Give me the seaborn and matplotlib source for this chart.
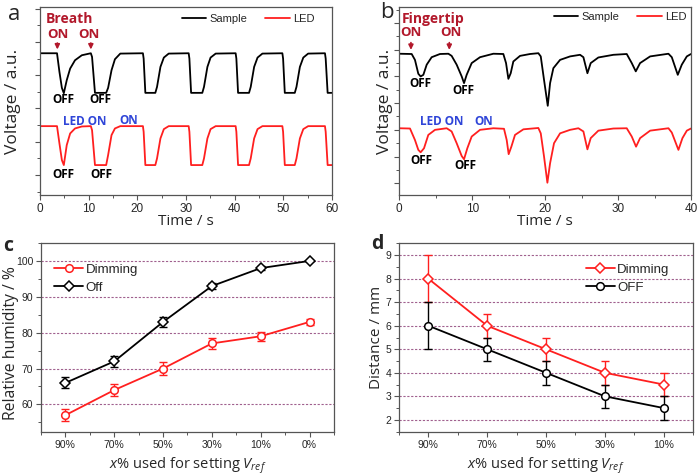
import numpy as np
import pandas as pd
import matplotlib
matplotlib.use('Agg')
import matplotlib.pyplot as plt
import seaborn as sns
from matplotlib.ticker import MultipleLocator
from matplotlib.lines import Line2D

sns.set_style('ticks')
plt.rcParams['font.family'] = ['Liberation Sans', 'DejaVu Sans']
plt.rcParams['mathtext.fontset'] = 'custom'
plt.rcParams['mathtext.it'] = 'Open Sans:italic'
plt.rcParams['mathtext.rm'] = 'Open Sans'

# ---------------- Panel a: breath (time in s, voltage a.u.) ----------------
a_time = [0, 3.5, 4.0, 4.5, 4.9, 5.5, 6.2, 7.2, 8.6, 10.45, 10.7, 11.3, 13.6, 14.0, 14.7, 15.4, 16.5,
          21.15, 21.3, 21.65, 23.7, 24.05, 24.75, 25.45, 26.45, 30.55, 30.7, 31.05, 33.35, 33.7, 34.4,
          35.05, 36.1, 40.2, 40.35, 40.7, 42.95, 43.3, 44.0, 44.7, 45.7, 49.8, 49.95, 50.3, 52.35, 52.7,
          53.4, 54.1, 55.1, 58.55, 58.7, 59.1, 60]
a_sample = [3.66, 3.66, 3.1, 2.62, 2.46, 2.85, 3.2, 3.45, 3.6, 3.66, 3.55, 2.47, 2.47, 2.62, 3.15, 3.48, 3.65,
            3.66, 3.5, 2.47, 2.47, 2.65, 3.25, 3.53, 3.65, 3.66, 3.5, 2.47, 2.47, 2.65, 3.25,
            3.53, 3.65, 3.66, 3.5, 2.47, 2.47, 2.65, 3.25, 3.53, 3.65, 3.66, 3.5, 2.47, 2.47, 2.65,
            3.25, 3.53, 3.65, 3.66, 3.5, 2.47, 2.47]
a_led = [1.47, 1.47, 0.95, 0.45, 0.3, 0.9, 1.25, 1.4, 1.46, 1.47, 1.35, 0.3, 0.3, 0.6, 1.2, 1.4, 1.47,
         1.47, 1.3, 0.3, 0.3, 0.5, 1.1, 1.38, 1.47, 1.47, 1.3, 0.3, 0.3, 0.5, 1.1,
         1.38, 1.47, 1.47, 1.3, 0.3, 0.3, 0.5, 1.1, 1.38, 1.47, 1.47, 1.3, 0.3, 0.3, 0.5,
         1.1, 1.38, 1.47, 1.47, 1.3, 0.3, 0.3]

# ---------------- Panel b: fingertip ----------------
b_time_s = [0, 1.7, 2.15, 2.61, 2.93, 3.3, 3.76, 4.44, 5.58, 6.73, 7.18, 7.87, 8.56, 8.88, 9.24, 9.93,
            11.07, 12.9, 14.27, 14.64, 14.96, 15.28, 15.64, 16.56, 17.93, 19.07, 19.4, 19.85, 20.36,
            20.68, 21.13, 22.05, 23.42, 24.79, 25.25, 25.8, 26.25, 27.3, 29.36, 31.19, 31.88, 32.43,
            33.02, 34.4, 36.91, 37.37, 38.19, 38.74, 39.43, 40]
b_sample = [4.85, 4.84, 4.62, 4.1, 4.0, 4.06, 4.44, 4.72, 4.84, 4.85, 4.77, 4.44, 4.0, 3.75, 4.06, 4.5,
            4.72, 4.85, 4.84, 4.5, 3.91, 4.12, 4.56, 4.77, 4.84, 4.87, 4.75, 3.87, 2.9,
            3.75, 4.31, 4.62, 4.75, 4.81, 4.72, 4.12, 4.5, 4.71, 4.81, 4.84, 4.5, 4.19,
            4.5, 4.75, 4.85, 4.72, 4.06, 4.44, 4.75, 4.84]
b_time_l = [0, 1.47, 2.15, 2.61, 2.93, 3.39, 3.98, 4.9, 6.5, 7.18, 7.87, 8.56, 8.88, 9.33, 9.93, 11.07,
            12.9, 14.36, 14.73, 15.0, 15.37, 15.87, 17.02, 19.07, 19.4, 19.85, 20.31, 20.68, 21.22,
            22.05, 23.42, 24.56, 25.25, 25.8, 26.25, 27.3, 29.36, 31.19, 31.88, 32.47, 33.02, 34.4,
            36.91, 37.37, 38.28, 38.83, 39.43, 40]
b_led = [2.06, 2.05, 1.62, 1.25, 1.16, 1.31, 1.81, 2.0, 2.06, 1.94, 1.5, 1.02, 0.9, 1.31, 1.75, 2.0,
         2.06, 2.04, 1.62, 1.09, 1.37, 1.81, 2.02, 2.07, 1.87, 1.0, 0.02, 0.75, 1.5,
         1.87, 2.0, 2.06, 1.94, 1.27, 1.69, 1.97, 2.05, 2.06, 1.75, 1.37, 1.69, 1.97,
         2.06, 1.9, 1.25, 1.69, 1.97, 2.05]

# ---------------- Panel c ----------------
c_labels = ['90%', '70%', '50%', '30%', '10%', '0%']
c_dimming = [57, 64, 70, 77, 79, 83]
c_dimming_err = [1.6, 1.7, 1.7, 1.5, 1.3, 0.8]
c_off = [66, 72, 83, 93, 98, 100]
c_off_err = [1.5, 1.6, 1.5, 0.9, 0.5, 0.0]

# ---------------- Panel d ----------------
d_labels = ['90%', '70%', '50%', '30%', '10%']
d_dimming = [8, 6, 5, 4, 3.5]
d_dimming_err = [1.0, 0.5, 0.5, 0.5, 0.5]
d_off = [6, 5, 4, 3, 2.5]
d_off_err = [1.0, 0.5, 0.5, 0.5, 0.5]

RED = '#ff1f1f'
DARKRED = '#b2182b'
BLUE = '#2f45d8'
SPINE = '#555555'
GRID = '#a0608e'

fig = plt.figure(figsize=(7, 4.76), dpi=100)
axa = fig.add_axes([0.0571, 0.5903, 0.4172, 0.395])
axb = fig.add_axes([0.5704, 0.5903, 0.4167, 0.395])
axc = fig.add_axes([0.0586, 0.0924, 0.4185, 0.3971])
axd = fig.add_axes([0.5700, 0.0924, 0.4200, 0.3971])

def style_axes(ax, fs=8):
    for s in ax.spines.values():
        s.set_color(SPINE)
        s.set_linewidth(0.9)
    ax.tick_params(which='major', direction='out', length=3.5, width=0.8, color=SPINE, labelsize=fs, pad=2)
    ax.tick_params(which='minor', direction='out', length=2, width=0.7, color=SPINE)

LBL = dict(family='Open Sans', fontsize=10.5)
ANN = dict(family='Open Sans', fontweight='bold', ha='center', va='center')

# ----- panel a
dfa = pd.DataFrame({'t': a_time + a_time, 'v': a_sample + a_led,
                    'trace': ['Sample'] * len(a_time) + ['LED'] * len(a_time)})
sns.lineplot(data=dfa, x='t', y='v', hue='trace', palette={'Sample': 'black', 'LED': RED},
             sort=False, estimator=None, ax=axa, linewidth=1.3, legend=False)
axa.set_xlim(0, 60)
axa.set_ylim(-0.6, 5.05)
axa.xaxis.set_major_locator(MultipleLocator(10))
axa.xaxis.set_minor_locator(MultipleLocator(5))
axa.yaxis.set_major_locator(MultipleLocator(1))
axa.yaxis.set_minor_locator(MultipleLocator(0.5))
axa.set_yticklabels([])
style_axes(axa, fs=8.5)
axa.set_xlabel('Time / s', family='Open Sans', fontsize=11)
axa.set_ylabel('Voltage / a.u.', family='Open Sans', fontsize=12.5)
axa.xaxis.set_label_coords(0.5, -0.1)
axa.yaxis.set_label_coords(-0.066, 0.5)
axa.legend(handles=[Line2D([], [], color='black', lw=1.3), Line2D([], [], color=RED, lw=1.3)],
           labels=['Sample', 'LED'], ncol=2, frameon=False, fontsize=8, loc='center right',
           bbox_to_anchor=(0.94, 0.935), borderaxespad=0, borderpad=0, handlelength=2.2,
           handletextpad=0.3, columnspacing=1.6)
axa.text(5.97, 4.68, 'Breath', color=DARKRED, fontsize=10, **ANN)
for tx in (3.6, 10.1):
    axa.text(tx, 4.23, 'ON', color=DARKRED, fontsize=9.5, **ANN)
for tx in (3.57, 10.45):
    axa.annotate('', xy=(tx, 3.69), xytext=(tx, 4.05),
                 arrowprops=dict(arrowstyle='-|>', color=DARKRED, lw=1.2, mutation_scale=7))
for tx in (4.74, 12.35):
    axa.text(tx, 2.28, 'OFF', color='black', fontsize=8.5, **ANN)
for tx in (4.74, 12.55):
    axa.text(tx, 0.03, 'OFF', color='black', fontsize=8.5, **ANN)
axa.text(9.17, 1.62, 'LED ON', color=BLUE, fontsize=8.5, **ANN)
axa.text(18.3, 1.65, 'ON', color=BLUE, fontsize=8.5, **ANN)

# ----- panel b
dfb = pd.DataFrame({'t': b_time_s + b_time_l, 'v': b_sample + b_led,
                    'trace': ['Sample'] * len(b_time_s) + ['LED'] * len(b_time_l)})
sns.lineplot(data=dfb, x='t', y='v', hue='trace', palette={'Sample': 'black', 'LED': RED},
             sort=False, estimator=None, ax=axb, linewidth=1.3, legend=False)
axb.set_xlim(0, 40)
axb.set_ylim(-0.44, 6.6)
axb.xaxis.set_major_locator(MultipleLocator(10))
axb.xaxis.set_minor_locator(MultipleLocator(5))
axb.yaxis.set_major_locator(MultipleLocator(1))
axb.yaxis.set_minor_locator(MultipleLocator(0.5))
axb.set_yticklabels([])
style_axes(axb, fs=8.5)
axb.set_xlabel('Time / s', family='Open Sans', fontsize=11)
axb.set_ylabel('Voltage / a.u.', family='Open Sans', fontsize=12.5)
axb.xaxis.set_label_coords(0.5, -0.1)
axb.yaxis.set_label_coords(-0.02, 0.5)
axb.legend(handles=[Line2D([], [], color='black', lw=1.3), Line2D([], [], color=RED, lw=1.3)],
           labels=['Sample', 'LED'], ncol=2, frameon=False, fontsize=8, loc='center right',
           bbox_to_anchor=(0.985, 0.947), borderaxespad=0, borderpad=0, handlelength=2.2,
           handletextpad=0.3, columnspacing=1.6)
axb.text(4.69, 6.16, 'Fingertip', color=DARKRED, fontsize=10, **ANN)
for tx in (1.6, 7.09):
    axb.text(tx, 5.64, 'ON', color=DARKRED, fontsize=9.5, **ANN)
for tx in (1.6, 6.86):
    axb.annotate('', xy=(tx, 4.89), xytext=(tx, 5.37),
                 arrowprops=dict(arrowstyle='-|>', color=DARKRED, lw=1.2, mutation_scale=7))
axb.text(2.84, 3.72, 'OFF', color='black', fontsize=8.5, **ANN)
axb.text(8.74, 3.46, 'OFF', color='black', fontsize=8.5, **ANN)
axb.text(2.98, 0.87, 'OFF', color='black', fontsize=8.5, **ANN)
axb.text(9.01, 0.65, 'OFF', color='black', fontsize=8.5, **ANN)
axb.text(5.86, 2.3, 'LED ON', color=BLUE, fontsize=8.5, **ANN)
axb.text(11.62, 2.3, 'ON', color=BLUE, fontsize=8.5, **ANN)

# ----- panel c
xc = np.arange(len(c_labels))
for y in range(60, 101, 10):
    axc.axhline(y, color=GRID, lw=0.8, ls=(0, (2.0, 1.5)), zorder=0)
dfc = pd.DataFrame({'x': np.concatenate([xc, xc]), 'y': c_dimming + c_off,
                    'set': ['Dimming'] * len(xc) + ['Off'] * len(xc)})
sns.lineplot(data=dfc, x='x', y='y', hue='set', style='set', palette={'Dimming': RED, 'Off': 'black'},
             markers={'Dimming': 'o', 'Off': 'D'}, dashes=False, ax=axc, linewidth=1.3,
             markersize=5.5, markerfacecolor='white', markeredgewidth=1.1, legend=False, zorder=3)
for ln, c in zip(axc.lines[-2:], [RED, 'black']):
    ln.set_markeredgecolor(c)
axc.errorbar(xc, c_dimming, yerr=c_dimming_err, fmt='none', ecolor=RED, elinewidth=1.0, capsize=2.6, capthick=1.0, zorder=2)
axc.errorbar(xc, c_off, yerr=c_off_err, fmt='none', ecolor='black', elinewidth=1.0, capsize=2.6, capthick=1.0, zorder=2)
axc.set_xlim(-0.5, 5.5)
axc.set_ylim(52.3, 105)
axc.set_xticks(xc)
axc.set_xticklabels(c_labels)
axc.xaxis.set_minor_locator(MultipleLocator(0.5))
axc.yaxis.set_major_locator(MultipleLocator(10))
axc.yaxis.set_minor_locator(MultipleLocator(5))
axc.set_yticks([60, 70, 80, 90, 100])
style_axes(axc, fs=7.5)
axc.set_xlabel(r'$x$% used for setting $V_{ref}$', **LBL)
axc.set_ylabel('Relative humidity / %', family='Open Sans', fontsize=11.3)
axc.xaxis.set_label_coords(0.5, -0.125)
axc.yaxis.set_label_coords(-0.076, 0.47)
axc.legend(handles=[Line2D([], [], color=RED, lw=1.3, marker='o', ms=5.5, mfc='white', mew=1.1),
                    Line2D([], [], color='black', lw=1.3, marker='D', ms=5.5, mfc='white', mew=1.1)],
           labels=['Dimming', 'Off'], frameon=False, fontsize=9.5, loc='upper left',
           bbox_to_anchor=(0.045, 0.89), borderaxespad=0, borderpad=0, handlelength=2.2,
           handletextpad=0.2, labelspacing=0.4)

# ----- panel d
xd = np.arange(len(d_labels))
for y in range(2, 10):
    axd.axhline(y, color=GRID, lw=0.8, ls=(0, (2.0, 1.5)), zorder=0)
dfd = pd.DataFrame({'x': np.concatenate([xd, xd]), 'y': d_dimming + d_off,
                    'set': ['Dimming'] * len(xd) + ['OFF'] * len(xd)})
sns.lineplot(data=dfd, x='x', y='y', hue='set', style='set', palette={'Dimming': RED, 'OFF': 'black'},
             markers={'Dimming': 'D', 'OFF': 'o'}, dashes=False, ax=axd, linewidth=1.3,
             markersize=5.5, markerfacecolor='white', markeredgewidth=1.1, legend=False, zorder=3)
for ln, c in zip(axd.lines[-2:], [RED, 'black']):
    ln.set_markeredgecolor(c)
axd.errorbar(xd, d_dimming, yerr=d_dimming_err, fmt='none', ecolor=RED, elinewidth=1.0, capsize=2.6, capthick=1.0, zorder=2)
axd.errorbar(xd, d_off, yerr=d_off_err, fmt='none', ecolor='black', elinewidth=1.0, capsize=2.6, capthick=1.0, zorder=2)
axd.set_xlim(-0.5, 4.5)
axd.set_ylim(1.48, 9.52)
axd.set_xticks(xd)
axd.set_xticklabels(d_labels)
axd.xaxis.set_minor_locator(MultipleLocator(0.5))
axd.yaxis.set_major_locator(MultipleLocator(1))
axd.yaxis.set_minor_locator(MultipleLocator(0.5))
style_axes(axd, fs=7.5)
axd.set_xlabel(r'$x$% used for setting $V_{ref}$', **LBL)
axd.set_ylabel('Distance / mm', family='Open Sans', fontsize=11)
axd.xaxis.set_label_coords(0.5, -0.125)
axd.yaxis.set_label_coords(-0.052, 0.5)
axd.legend(handles=[Line2D([], [], color=RED, lw=1.3, marker='D', ms=5.5, mfc='white', mew=1.1),
                    Line2D([], [], color='black', lw=1.3, marker='o', ms=5.5, mfc='white', mew=1.1)],
           labels=['Dimming', 'OFF'], frameon=False, fontsize=9.5, loc='upper left',
           bbox_to_anchor=(0.635, 0.89), borderaxespad=0, borderpad=0, handlelength=2.2,
           handletextpad=0.2, labelspacing=0.4)

# panel letters
fig.text(14 / 700, 1 - 14 / 476, 'a', fontsize=16, ha='center', va='center', family='Open Sans')
fig.text(387 / 700, 1 - 12 / 476, 'b', fontsize=16, ha='center', va='center', family='Open Sans')
fig.text(8 / 700, 1 - 246 / 476, 'c', fontsize=14, fontweight='bold', ha='center', va='center', family='Open Sans')
fig.text(377 / 700, 1 - 244 / 476, 'd', fontsize=14, fontweight='bold', ha='center', va='center', family='Open Sans')

fig.savefig('out.png', dpi=100)
